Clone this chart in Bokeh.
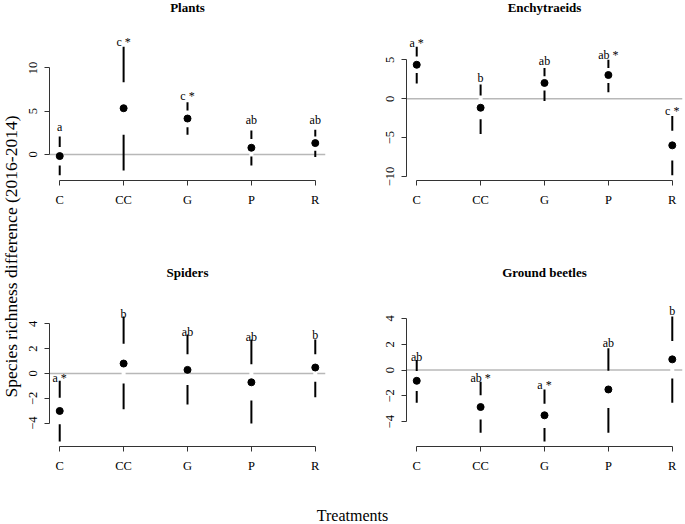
import math
from bokeh.plotting import figure
from bokeh.models import Range1d, FixedTicker, Span, ColumnDataSource, LabelSet, Label
from bokeh.layouts import row, column
from bokeh.core.properties import value
from bokeh.embed import file_html
from bokeh.resources import INLINE

# ---------------- data ----------------
treatments = ["C", "CC", "G", "P", "R"]

plants_top = [2.08, 12.46, 6.04, 2.77, 2.85]
plants_q3 = [0.85, 8.34, 5.07, 1.77, 2.08]
plants_med = [-0.19, 5.34, 4.15, 0.77, 1.31]
plants_q1 = [-1.27, 2.27, 3.15, -0.23, 0.42]
plants_bot = [-2.42, -1.85, 2.27, -1.27, -0.31]
plants_lab = ["a", "c *", "c *", "ab", "ab"]
plants_lab_y = [2.69, 12.57, 6.34, 3.46, 3.46]
plants_ticks = [0, 5, 10]

ench_top = [6.71, 1.83, 3.95, 5.02, -2.20]
ench_q3 = [5.44, 0.43, 2.89, 3.95, -4.11]
ench_med = [4.38, -1.15, 2.04, 3.06, -5.99]
ench_q1 = [3.31, -2.62, 1.07, 2.04, -7.94]
ench_bot = [1.96, -4.53, -0.29, 0.85, -9.85]
ench_lab = ["a *", "b", "ab", "ab *", "c *"]
ench_lab_y = [6.71, 2.17, 4.29, 5.15, -2.08]
ench_ticks = [-10, -5, 0, 5]

spid_top = [-0.58, 4.59, 3.13, 2.73, 2.73]
spid_q3 = [-1.96, 2.39, 1.54, 0.75, 1.54]
spid_med = [-3.02, 0.80, 0.29, -0.71, 0.48]
spid_q1 = [-4.10, -0.80, -0.93, -2.17, -0.66]
spid_bot = [-5.48, -2.89, -2.49, -4.02, -1.91]
spid_lab = ["a *", "b", "ab", "ab", "b"]
spid_lab_y = [-0.72, 4.45, 3.05, 2.60, 2.81]
spid_ticks = [-4, -2, 0, 2, 4]

beet_top = [0.78, -0.91, -1.50, 1.69, 4.15]
beet_q3 = [-0.08, -1.95, -2.60, -0.05, 2.26]
beet_med = [-0.83, -2.86, -3.50, -1.50, 0.83]
beet_q1 = [-1.61, -3.82, -4.49, -2.94, -0.65]
beet_bot = [-2.52, -4.85, -5.53, -4.85, -2.52]
beet_lab = ["ab", "ab *", "a *", "ab", "b"]
beet_lab_y = [0.70, -0.91, -1.50, 1.81, 4.23]
beet_ticks = [-4, -2, 0, 2, 4]

y_title = "Species richness difference (2016-2014)"
x_title = "Treatments"

# ---------------- styling ----------------
SERIF = "Liberation Serif"
AXIS_COL = "#333333"


def make_panel(title, top, q3, med, q1, bot, lab, lab_y, yticks,
               w, h, bl, br, region_top, region_h, title_y):
    xs = list(range(1, len(treatments) + 1))
    xpad = 0.04 * (xs[-1] - xs[0])
    lo, hi = min(bot), max(top)
    ypad = 0.04 * (hi - lo)
    y0, y1 = lo - ypad, hi + ypad
    upp = (y1 - y0) / region_h           # data units per pixel
    y_end = y1 + region_top * upp        # frame reaches the canvas top
    p = figure(width=w, height=h,
               x_range=Range1d(xs[0] - xpad, xs[-1] + xpad),
               y_range=Range1d(y0, y_end),
               output_backend="svg", toolbar_location=None,
               min_border_left=bl, min_border_right=br,
               min_border_top=0, min_border_bottom=h - region_top - region_h)
    p.outline_line_color = None
    p.grid.visible = False
    p.background_fill_color = "white"
    p.border_fill_color = "white"

    xa = p.xaxis[0]
    xa.ticker = FixedTicker(ticks=xs)
    xa.major_label_overrides = {x: t for x, t in zip(xs, treatments)}
    xa.bounds = (xs[0], xs[-1])
    ya = p.yaxis[0]
    ya.ticker = FixedTicker(ticks=yticks)
    ya.bounds = (min(yticks), max(yticks))
    ya.major_label_orientation = "parallel"
    for ax in (xa, ya):
        ax.minor_tick_line_color = None
        ax.major_tick_in = 0
        ax.major_tick_out = 5
        ax.major_label_standoff = 7
        ax.axis_line_color = AXIS_COL
        ax.major_tick_line_color = AXIS_COL
        ax.axis_line_width = 1
        ax.major_label_text_font = SERIF
        ax.major_label_text_font_size = "12.5px"
        ax.major_label_text_color = "black"

    p.add_layout(Span(location=0, dimension="width", line_color="#b8b8b8",
                      line_width=1.5, level="underlay"))

    src = ColumnDataSource(dict(x=xs, top=top, q3=q3, med=med, q1=q1,
                                bot=bot, lab=lab, lab_y=lab_y))
    p.segment("x", "q1", "x", "q3", source=src, line_color="white", line_width=4)
    p.segment("x", "q3", "x", "top", source=src, line_color="black", line_width=2)
    p.segment("x", "q1", "x", "bot", source=src, line_color="black", line_width=2)
    p.scatter("x", "med", source=src, size=7, color="black")

    p.add_layout(LabelSet(x="x", y="lab_y", text="lab", source=src,
                          text_align="center", text_baseline="alphabetic",
                          text_font=value(SERIF), text_font_size=value("12px"),
                          text_color="black"))

    p.add_layout(Label(x=(xs[0] + xs[-1]) / 2, y=y_end - title_y * upp, text=title,
                       text_align="center", text_baseline="middle",
                       text_font=SERIF, text_font_style="bold",
                       text_font_size="13px", text_color="black"))
    return p


STRIP_W = 22
C1_W, C2_W = 356, 307
R1_H, R2_H, BOT_H = 262, 238, 24
TOTAL_H = R1_H + R2_H + BOT_H

f1 = make_panel("Plants", plants_top, plants_q3, plants_med, plants_q1, plants_bot,
                plants_lab, plants_lab_y, plants_ticks, C1_W, R1_H, 27, 53, 41, 139, 7)
f2 = make_panel("Enchytraeids", ench_top, ench_q3, ench_med, ench_q1, ench_bot,
                ench_lab, ench_lab_y, ench_ticks, C2_W, R1_H, 28, 3, 41, 139, 7)
f3 = make_panel("Spiders", spid_top, spid_q3, spid_med, spid_q1, spid_bot,
                spid_lab, spid_lab_y, spid_ticks, C1_W, R2_H, 27, 53, 49, 135, 10)
f4 = make_panel("Ground beetles", beet_top, beet_q3, beet_med, beet_q1, beet_bot,
                beet_lab, beet_lab_y, beet_ticks, C2_W, R2_H, 28, 3, 49, 135, 10)


def strip(w, h):
    s = figure(width=w, height=h, x_range=Range1d(0, w), y_range=Range1d(0, h),
               output_backend="svg", toolbar_location=None,
               x_axis_location=None, y_axis_location=None,
               min_border_left=0, min_border_right=0,
               min_border_top=0, min_border_bottom=0)
    s.outline_line_color = None
    s.grid.visible = False
    return s


left = strip(STRIP_W, TOTAL_H)
left.add_layout(Label(x=10, y=TOTAL_H - 256, text=y_title, angle=math.pi / 2,
                      text_align="center", text_baseline="middle",
                      text_font=SERIF, text_font_size="17.5px", text_color="black"))

bottom = strip(C1_W + C2_W, BOT_H)
bottom.add_layout(Label(x=352 - STRIP_W, y=BOT_H - 15, text=x_title,
                        text_align="center", text_baseline="middle",
                        text_font=SERIF, text_font_size="16px", text_color="black"))

layout = row(left, column(row(f1, f2), row(f3, f4), bottom))

open("out.html", "w").write(file_html(layout, INLINE))
